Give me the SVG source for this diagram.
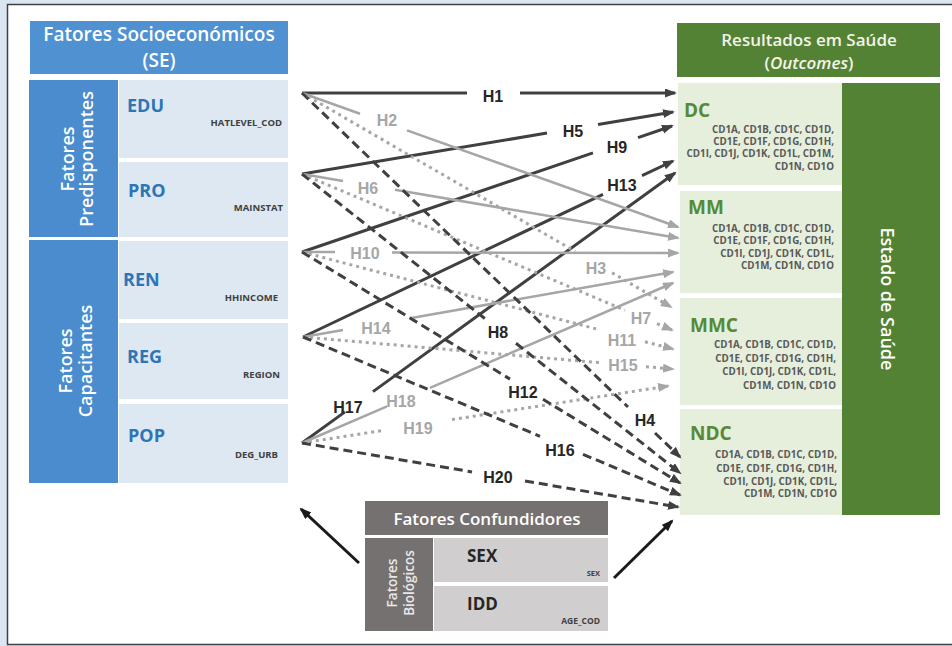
<svg xmlns="http://www.w3.org/2000/svg" width="952" height="646" viewBox="0 0 952 646">
<style>
.hdr{font-family:"Open Sans","Liberation Sans",sans-serif;font-weight:600;fill:#ffffff}
.blab{font-family:"Open Sans","Liberation Sans",sans-serif;font-weight:700;font-size:18px;fill:#2e75b6}
.glab{font-family:"Open Sans","Liberation Sans",sans-serif;font-weight:700;font-size:19px;fill:#558b36}
.code{font-family:"Open Sans","Liberation Sans",sans-serif;font-weight:700;font-size:9.5px;fill:#404040;text-anchor:end}
.cd{font-family:"Open Sans","Liberation Sans",sans-serif;font-weight:700;font-size:9.8px;fill:#595959;text-anchor:end}
.hl{font-family:"Liberation Sans",Arial,sans-serif;font-weight:700;font-size:16px;text-anchor:middle}
.hd{fill:#262626}
.hg{fill:#a6a6a6}
.sd{fill:none;stroke:#404040;stroke-width:3;marker-end:url(#ad)}
.sg{fill:none;stroke:#a6a6a6;stroke-width:2.5;marker-end:url(#ag)}
.dg{fill:none;stroke:#a6a6a6;stroke-width:3;stroke-dasharray:3 4;marker-end:url(#ag)}
.dd{fill:none;stroke:#404040;stroke-width:3;stroke-dasharray:9 5;marker-end:url(#ad)}
.bk{fill:none;stroke:#1a1a1a;stroke-width:3;marker-end:url(#ab)}
</style>
<defs>
<marker id="ad" markerUnits="userSpaceOnUse" markerWidth="13" markerHeight="10" refX="10" refY="4.5" orient="auto"><path d="M0,0 L12,4.5 L0,9 z" fill="#404040"/></marker>
<marker id="ag" markerUnits="userSpaceOnUse" markerWidth="13" markerHeight="10" refX="10" refY="4.5" orient="auto"><path d="M0,0 L12,4.5 L0,9 z" fill="#a6a6a6"/></marker>
<marker id="ab" markerUnits="userSpaceOnUse" markerWidth="13" markerHeight="10" refX="10" refY="4.5" orient="auto"><path d="M0,0 L12,4.5 L0,9 z" fill="#1a1a1a"/></marker>
</defs>
<rect x="0" y="0" width="952" height="646" fill="#dce6f2"/>
<rect x="7.5" y="4.5" width="960" height="640" fill="#ffffff" stroke="#404040" stroke-width="1.5"/>

<g id="se-header">
<rect x="30" y="21" width="258" height="53" fill="#4f91d1"/>
<text class="hdr" font-size="19" x="159" y="41" text-anchor="middle">Fatores Socioeconómicos</text>
<text class="hdr" font-size="19" x="159" y="67" text-anchor="middle">(SE)</text>
</g>
<g id="predisponentes">
<rect x="29" y="80" width="89" height="157" fill="#4a8ccd"/>
<text class="hdr" font-size="18" transform="translate(73,159) rotate(-90)" text-anchor="middle"><tspan x="0" y="1">Fatores</tspan><tspan x="0" y="20">Predisponentes</tspan></text>
</g>
<g id="capacitantes">
<rect x="29" y="240" width="89" height="243" fill="#4a8ccd"/>
<text class="hdr" font-size="18" transform="translate(73,361) rotate(-90)" text-anchor="middle"><tspan x="0" y="-1">Fatores</tspan><tspan x="0" y="19">Capacitantes</tspan></text>
</g>
<g id="EDU">
<rect x="119" y="80" width="169" height="78" fill="#dde8f3"/>
<text class="blab" x="127" y="112">EDU</text>
<text class="code" x="282" y="126">HATLEVEL_COD</text>
</g>
<g id="PRO">
<rect x="119" y="162" width="169" height="75" fill="#dde8f3"/>
<text class="blab" x="128" y="197">PRO</text>
<text class="code" x="283" y="211">MAINSTAT</text>
</g>
<g id="REN">
<rect x="119" y="241" width="169" height="78" fill="#dde8f3"/>
<text class="blab" x="123" y="286">REN</text>
<text class="code" x="278" y="301">HHINCOME</text>
</g>
<g id="REG">
<rect x="119" y="323" width="169" height="76" fill="#dde8f3"/>
<text class="blab" x="127" y="363">REG</text>
<text class="code" x="280" y="378">REGION</text>
</g>
<g id="POP">
<rect x="119" y="404" width="169" height="79" fill="#dde8f3"/>
<text class="blab" x="128" y="442">POP</text>
<text class="code" x="278" y="458">DEG_URB</text>
</g>

<g id="outcomes-header">
<rect x="677" y="23" width="263" height="54" fill="#548235"/>
<text class="hdr" font-size="17" x="809" y="46" text-anchor="middle" style="fill:#f3f3e8">Resultados em Saúde</text>
<text class="hdr" font-size="17" x="809" y="69" text-anchor="middle" style="fill:#f3f3e8">(<tspan font-style="italic">Outcomes</tspan>)</text>
</g>
<g id="estado-saude">
<rect x="842" y="83" width="98" height="432" fill="#548235"/>
<text class="hdr" font-size="18" transform="translate(881,299) rotate(90)" text-anchor="middle">Estado de Saúde</text>
</g>
<g id="DC">
<rect x="678" y="83" width="164" height="102" fill="#e6eedc"/>
<text class="glab" x="684" y="117">DC</text>
<text class="cd" x="834" y="133">CD1A, CD1B, CD1C, CD1D,</text>
<text class="cd" x="834" y="145">CD1E, CD1F, CD1G, CD1H,</text>
<text class="cd" x="834" y="157">CD1I, CD1J, CD1K, CD1L, CD1M,</text>
<text class="cd" x="834" y="170">CD1N, CD1O</text>
</g>
<g id="MM">
<rect x="680" y="191" width="162" height="102" fill="#e6eedc"/>
<text class="glab" x="688" y="214">MM</text>
<text class="cd" x="834" y="232">CD1A, CD1B, CD1C, CD1D,</text>
<text class="cd" x="834" y="244">CD1E, CD1F, CD1G, CD1H,</text>
<text class="cd" x="834" y="257">CD1I, CD1J, CD1K, CD1L,</text>
<text class="cd" x="834" y="269">CD1M, CD1N, CD1O</text>
</g>
<g id="MMC">
<rect x="680" y="298" width="162" height="107" fill="#e6eedc"/>
<text class="glab" x="690" y="332">MMC</text>
<text class="cd" x="836" y="348">CD1A, CD1B, CD1C, CD1D,</text>
<text class="cd" x="836" y="362">CD1E, CD1F, CD1G, CD1H,</text>
<text class="cd" x="836" y="375">CD1I, CD1J, CD1K, CD1L,</text>
<text class="cd" x="836" y="389">CD1M, CD1N, CD1O</text>
</g>
<g id="NDC">
<rect x="680" y="409" width="162" height="106" fill="#e6eedc"/>
<text class="glab" x="690" y="440">NDC</text>
<text class="cd" x="837" y="458">CD1A, CD1B, CD1C, CD1D,</text>
<text class="cd" x="837" y="472">CD1E, CD1F, CD1G, CD1H,</text>
<text class="cd" x="837" y="485">CD1I, CD1J, CD1K, CD1L,</text>
<text class="cd" x="837" y="497">CD1M, CD1N, CD1O</text>
</g>

<g id="confundidores-header">
<rect x="365" y="501" width="243" height="34" fill="#767171"/>
<text class="hdr" font-size="17" x="487" y="525" text-anchor="middle">Fatores Confundidores</text>
</g>
<g id="biologicos">
<rect x="365" y="538" width="68" height="93" fill="#767171"/>
<text class="hdr" font-size="13.5" transform="translate(399,583) rotate(-90)" text-anchor="middle" style="fill:#e8e8e8"><tspan x="0" y="-2">Fatores</tspan><tspan x="0" y="15">Biológicos</tspan></text>
</g>
<g id="SEX">
<rect x="434" y="538" width="174" height="44" fill="#d0cece"/>
<text x="467" y="562" font-family="Open Sans, Liberation Sans, sans-serif" font-weight="700" font-size="17" fill="#262626">SEX</text>
<text class="code" x="600" y="576" style="font-size:7.5px">SEX</text>
</g>
<g id="IDD">
<rect x="434" y="586" width="174" height="45" fill="#d0cece"/>
<text x="467" y="610" font-family="Open Sans, Liberation Sans, sans-serif" font-weight="700" font-size="17" fill="#262626">IDD</text>
<text class="code" x="600" y="624" style="font-size:8.5px">AGE_COD</text>
</g>

<g id="connectors">
<path class="sd" d="M302,93 L467,93 M520,93 L675,93"/>
<path class="sd" d="M302,174 L547,133.1 M598,124.5 L673,112"/>
<path class="sd" d="M302,252 L593,152.9 M638,137.6 L672,126"/>
<path class="sd" d="M303,337 L603,194.3 M642,175.7 L673,161"/>
<path class="sd" d="M302,443 L345,411.9 M373,391.6 L675,173"/>
<path class="sg" d="M302,93 L360,113.7 M407,130.4 L678,227"/>
<path class="sg" d="M302,174 L343,181 M395,189.8 L678,238"/>
<path class="sg" d="M302,252 L335,252 M392,252.5 L678,253"/>
<path class="sg" d="M303,337 L343,330 M410,318.2 L673,272"/>
<path class="sg" d="M302,443 L387,406.3 M430,387.8 L673,283"/>
<path class="dg" d="M302,93 L575,251.3 M612,272.8 L671,307"/>
<path class="dg" d="M302,174 L625,310.2 M657,323.7 L672,330"/>
<path class="dg" d="M302,252 L600,329.9 M645,341.7 L673,349"/>
<path class="dg" d="M303,337 L600,362.7 M646,366.7 L673,369"/>
<path class="dg" d="M302,443 L385,430.1 M452,419.6 L668,386"/>
<path class="dd" d="M302,93 L628,407 M655,433 L680,457"/>
<path class="dd" d="M302,174 L486,319.5 M516,343.3 L680,473"/>
<path class="dd" d="M302,252 L510,379.1 M543,399.3 L680,483"/>
<path class="dd" d="M303,337 L540,436.3 M583,454.3 L680,495"/>
<path class="dd" d="M302,443 L472,471.9 M525,481 L678,507"/>
<path class="bk" d="M359,563 L301,509"/>
<path class="bk" d="M614,578 L672,521"/>
<text class="hl hd" x="493" y="102">H1</text>
<text class="hl hd" x="573" y="137">H5</text>
<text class="hl hd" x="617" y="153">H9</text>
<text class="hl hd" x="622" y="191">H13</text>
<text class="hl hd" x="348" y="413">H17</text>
<text class="hl hg" x="387" y="126">H2</text>
<text class="hl hg" x="368" y="194">H6</text>
<text class="hl hg" x="365" y="259">H10</text>
<text class="hl hg" x="376" y="334">H14</text>
<text class="hl hg" x="401" y="407">H18</text>
<text class="hl hg" x="596" y="274">H3</text>
<text class="hl hg" x="641" y="324">H7</text>
<text class="hl hg" x="622" y="346">H11</text>
<text class="hl hg" x="623" y="371">H15</text>
<text class="hl hg" x="418" y="434">H19</text>
<text class="hl hd" x="645" y="426">H4</text>
<text class="hl hd" x="498" y="338">H8</text>
<text class="hl hd" x="523" y="398">H12</text>
<text class="hl hd" x="560" y="456">H16</text>
<text class="hl hd" x="498" y="483">H20</text>
</g>
</svg>
